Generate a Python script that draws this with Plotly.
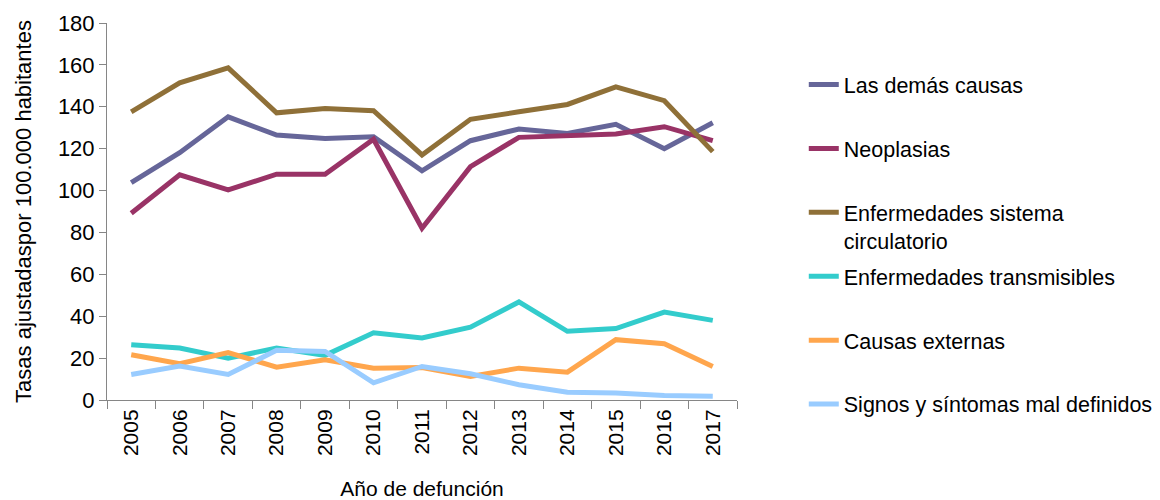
import plotly.graph_objects as go

years = [str(y) for y in range(2005, 2018)]

las_demas = [103.8, 118.1, 135.2, 126.5, 124.9, 125.7, 109.4, 123.8, 129.4, 127.3, 131.6, 120.0, 132.4]
neoplasias = [89.2, 107.5, 100.3, 107.8, 107.8, 124.5, 82.0, 111.4, 125.4, 126.0, 127.0, 130.5, 123.8]
circulatorio = [137.6, 151.4, 158.6, 137.1, 139.2, 138.1, 117.0, 134.0, 137.6, 141.1, 149.5, 142.9, 118.6]
transmisibles = [26.4, 24.8, 20.0, 24.8, 21.3, 32.1, 29.6, 34.8, 46.8, 32.8, 34.1, 42.0, 38.0]
externas = [21.6, 17.3, 22.6, 15.7, 19.2, 15.2, 15.5, 11.2, 15.2, 13.3, 28.8, 26.9, 16.0]
signos = [12.2, 16.2, 12.2, 23.7, 23.2, 8.2, 16.0, 12.5, 7.3, 3.7, 3.3, 2.2, 1.8]

names = [
    "Las demás causas<br>&nbsp;",
    "Neoplasias<br>&nbsp;",
    "Enfermedades sistema<br>circulatorio",
    "Enfermedades transmisibles<br>&nbsp;",
    "Causas externas<br>&nbsp;",
    "Signos y síntomas mal definidos<br>&nbsp;",
]
values = [las_demas, neoplasias, circulatorio, transmisibles, externas, signos]
colors = ["#666699", "#993366", "#8f7038", "#33cccc", "#ffa64d", "#99ccff"]

FONT = "Liberation Sans, Arial, sans-serif"

fig = go.Figure()
for i, (name, vals, col) in enumerate(zip(names, values, colors)):
    fig.add_trace(go.Scatter(
        x=years, y=vals, name=name, mode="lines",
        line=dict(color=col, width=5),
        legendgroup=f"g{i}",
    ))

fig.update_layout(
    width=1152, height=492,
    margin=dict(l=99, r=423, t=15, b=100, autoexpand=False),
    paper_bgcolor="white", plot_bgcolor="white",
    font=dict(family=FONT, size=22, color="#000000"),
    showlegend=True,
    legend=dict(
        x=1.106, xanchor="left", y=0.891, yanchor="top",
        font=dict(family=FONT, size=21.5, color="#000000"),
        tracegroupgap=5, valign="top",
        bgcolor="rgba(0,0,0,0)",
    ),
    xaxis=dict(
        type="category",
        range=[-0.5, 12.5],
        tickangle=-90,
        tickson="boundaries",
        ticks="outside", ticklen=8, tickcolor="#868686",
        showline=True, linecolor="#868686", linewidth=1,
        showgrid=False,
        title=dict(text="Año de defunción", font=dict(size=21), standoff=26),
        tickfont=dict(size=21),
    ),
    yaxis=dict(
        range=[0, 180], dtick=20,
        ticks="outside", ticklen=7, tickcolor="#868686",
        showline=True, linecolor="#868686", linewidth=1,
        showgrid=False, zeroline=False,
        title=dict(text="Tasas ajustadaspor 100.000 habitantes", font=dict(size=22), standoff=20),
        tickfont=dict(size=22),
    ),
)

fig.write_html("out.html")
